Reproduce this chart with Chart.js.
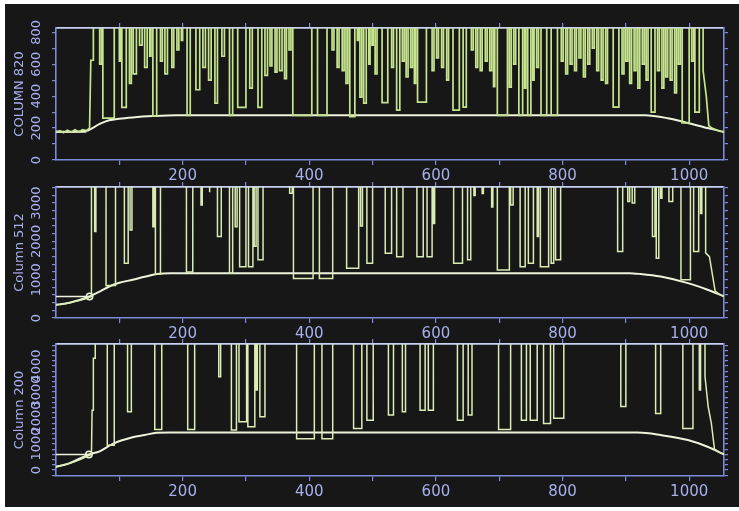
<!DOCTYPE html>
<html>
<head>
<meta charset="utf-8">
<script src="https://cdn.jsdelivr.net/npm/chart.js@4.4.1/dist/chart.umd.min.js"></script>
<style>
  html, body { margin: 0; padding: 0; background: #ffffff; }
  #stage { position: relative; width: 739px; height: 511px; overflow: hidden; }
  #panelBg { position: absolute; left: 5px; top: 4px; width: 734px; height: 503px; background: #171717; }
  canvas { position: absolute; left: 0; }
</style>
</head>
<body>
<div id="stage">
  <div id="panelBg"></div>
  <canvas id="c1" width="739" height="186" style="top:0px"></canvas>
  <canvas id="c2" width="739" height="180" style="top:165px"></canvas>
  <canvas id="c3" width="739" height="189" style="top:322px"></canvas>
</div>
<script>
// ---- shared x axis (position along the row) ----
const xMin = 0;
const xMax = 1055;
const xTickValues = [100, 200, 300, 400, 500, 600, 700, 800, 900, 1000];
const xLabelValues = [200, 400, 600, 800, 1000];

// ---- Column 820 ----
const title1 = 'COLUMN 820';
const yRange1 = [0, 827];
const yMinor1 = [0, 100, 200, 300, 400, 500, 600, 700, 800];
const yLabels1 = [0, 200, 400, 600, 800];
const top1 = 1000;            // signal saturates above the plotted range
const baseline1 = [[0,178],[20,177],[48,183],[69,226],[84,249],[100,259],[121,267],[153,275],[190,280],[930,280],[966,262],[998,232],[1029,200],[1055,176]];
const level1 = 176;
const cross1 = 48;
const sigStart1 = [[0,172],[6,184],[12,171],[18,186],[24,174],[30,189],[36,176],[42,190],[48,184],[53,200],[55,625],[59,625]];
const sigDips1 = [
  [69,72,600],[74,92,262],[100,102,620],[104,111,330],[116,119,480],[122,127,540],[132,136,720],
  [140,144,580],[148,150,650],[153,159,276],[165,168,620],[172,176,540],[183,186,580],[191,194,690],
  [198,200,750],[207,212,280],[221,227,440],[232,236,580],[241,245,500],[251,255,356],[262,266,650],
  [274,279,280],[287,300,330],[306,310,450],[319,325,330],[330,334,530],[338,341,590],[346,349,550],
  [353,357,560],[361,364,510],[368,371,690],[374,404,280],[413,428,280],[436,439,690],[444,447,580],
  [452,455,560],[458,461,480],[464,472,272],[476,478,750],[480,483,394],[486,490,356],[494,496,600],
  [499,501,720],[504,507,540],[515,524,360],[530,533,580],[538,543,313],[547,550,620],[553,556,520],
  [560,563,580],[566,568,480],[571,585,362],[594,597,560],[601,604,640],[609,612,580],[617,620,500],
  [627,637,313],[643,648,331],[656,659,690],[663,666,580],[670,673,560],[678,681,620],[685,688,560],
  [691,693,460],[697,713,280],[716,719,456],[723,726,600],[731,737,280],[740,742,450],[745,750,280],
  [753,755,500],[759,762,580],[766,775,280],[782,792,280],[798,801,620],[805,808,540],[812,815,600],
  [819,822,560],[826,829,640],[833,836,520],[840,843,600],[847,850,700],[854,857,560],[861,864,500],
  [868,871,480],[880,889,331],[894,897,540],[900,903,620],[906,909,480],[913,916,560],[919,922,450],
  [926,929,600],[932,935,500],[940,946,300],[950,953,560],[957,960,450],[963,966,520],[970,973,500],
  [977,980,420],[983,986,600],[989,1000,232],[1004,1007,620],[1009,1016,300]
];
const sigEnd1 = [[1022,560],[1027,400],[1031,215],[1036,200],[1042,190],[1048,180],[1055,176]];

// ---- Column 512 ----
const title2 = 'Column 512';
const yRange2 = [0, 3420];
const yMinor2 = [0,200,400,600,800,1000,1200,1400,1600,1800,2000,2200,2400,2600,2800,3000,3200,3400];
const yLabels2 = [0, 1000, 2000, 3000];
const top2 = 5000;
const baseline2 = [[0,346],[21,400],[53,563],[69,690],[84,823],[100,919],[121,997],[140,1075],[159,1146],[180,1170],[905,1170],[923,1150],[955,1083],[998,911],[1029,737],[1055,563]];
const level2 = 563;
const cross2 = 53;
const sigStart2 = [[0,340],[8,352],[16,380],[24,405],[32,440],[40,470],[48,505],[56,560]];
const sigDips2 = [
  [61,63,2255],[79,94,850],[108,114,1430],[117,120,2300],[153,155,2385],[157,165,1150],[206,216,1200],
  [229,231,2950],[242,243,3280],[255,261,2125],[274,279,1170],[283,286,2385],[290,300,1340],[304,311,1340],
  [313,316,1870],[319,327,1520],[369,373,3255],[375,406,1030],[416,437,1030],[459,478,1300],[481,484,2400],
  [491,500,1430],[520,530,1690],[538,548,1600],[570,580,1600],[586,594,1600],[596,598,2470],[628,642,1430],
  [650,655,1520],[660,662,3200],[673,675,3250],[688,690,2900],[697,716,1250],[718,722,2950],[733,741,1340],
  [746,754,1430],[760,762,2125],[765,778,1340],[782,786,1430],[789,797,1520],[887,895,1735],[903,906,3040],
  [910,914,3000],[942,946,2125],[948,952,1560],[955,957,3125],[968,974,3040],[987,1002,1000],[1007,1015,1735],
  [1018,1020,2730]
];
const sigEnd2 = [[1026,1700],[1032,1600],[1037,1100],[1041,700],[1048,620],[1055,560]];

// ---- Column 200 ----
const title3 = 'Column 200';
const yRange3 = [-230, 4850];
const yMinor3 = [-200,0,200,400,600,800,1000,1200,1400,1600,1800,2000,2200,2400,2600,2800,3000,3200,3400,3600,3800,4000,4200,4400,4600,4800];
const yLabels3 = [0, 1000, 2000, 3000, 4000];
const top3 = 7000;
const baseline3 = [[0,127],[21,258],[52,600],[69,720],[89,1000],[121,1258],[140,1346],[159,1435],[180,1440],[919,1440],[955,1346],[998,1154],[1029,896],[1055,600]];
const level3 = 600;
const cross3 = 52;
const sigStart3 = [[0,120],[10,180],[20,250],[30,330],[40,420],[50,540],[56,600],[57,2300],[59,2300],[59,4300],[62,4300]];
const sigDips3 = [
  [81,92,950],[113,119,2240],[156,167,1560],[208,219,1560],[257,260,3590],[277,285,1540],[289,301,1860],
  [303,314,1670],[316,318,3080],[322,330,2050],[380,408,1200],[420,437,1200],[470,483,1600],[491,501,1920],
  [525,533,2115],[547,552,2240],[575,583,2300],[588,596,2300],[634,643,1920],[651,657,2115],[699,718,1560],
  [735,743,1920],[749,760,1920],[770,781,1795],[786,802,1990],[892,900,2440],[947,955,2180],[990,1006,1600],
  [1016,1018,3080]
];
const sigEnd3 = [[1025,3600],[1030,2440],[1035,1800],[1040,800],[1047,700],[1055,600]];

// ---- styling ----
const FONT = 'DejaVu Sans';
const axisBlue = '#7d8ad9';
const frameTop = '#c9d0f4';
const labelColor = '#a7b0ec';
const curveColor = '#eef3dc';

const toPts = arr => arr.map(([x, y]) => ({ x, y }));

// Signal trace: the lead-in, then each dip below the saturated top, then the tail.
function buildTrace(start, dips, end, top) {
  const pts = toPts(start);
  pts.push({ x: start[start.length - 1][0], y: top });
  dips.forEach(([x0, x1, low]) => {
    pts.push({ x: x0, y: top }, { x: x0, y: low }, { x: x1, y: low }, { x: x1, y: top });
  });
  pts.push({ x: end[0][0], y: top });
  return pts.concat(toPts(end));
}

// Rotated y tick labels and axis title, placed through the y scale.
const sideLabels = {
  id: 'sideLabels',
  afterDraw(chart, args, opts) {
    const ctx = chart.ctx;
    const ys = chart.scales.y;
    const area = chart.chartArea;
    ctx.save();
    ctx.fillStyle = labelColor;
    ctx.textAlign = 'center';
    ctx.textBaseline = 'middle';
    ctx.font = '13px "' + FONT + '"';
    opts.values.forEach(v => {
      const py = ys.getPixelForValue(v);
      ctx.save();
      ctx.translate(opts.tickX, py);
      ctx.rotate(-Math.PI / 2);
      ctx.fillText(String(v), 0, 0);
      ctx.restore();
    });
    ctx.save();
    ctx.translate(opts.titleX, (area.top + area.bottom) / 2);
    ctx.rotate(-Math.PI / 2);
    ctx.fillText(opts.title, 0, 0);
    ctx.restore();
    ctx.restore();
  }
};

function tickMarks(values) {
  return s => { s.ticks = values.map(v => ({ value: v })); };
}

function makeChart(id, cfg) {
  const grid = { drawOnChartArea: false, drawTicks: true, tickLength: 5, color: axisBlue, lineWidth: 1.2 };
  return new Chart(document.getElementById(id), {
    type: 'line',
    data: {
      datasets: [
        {
          data: buildTrace(cfg.start, cfg.dips, cfg.end, cfg.top),
          borderColor: cfg.signalColor, borderWidth: cfg.signalWidth, pointRadius: 0, tension: 0
        },
        {
          data: toPts(cfg.baseline),
          borderColor: curveColor, borderWidth: 2, pointRadius: 0, cubicInterpolationMode: 'monotone'
        },
        {
          data: [{ x: 0, y: cfg.level }, { x: cfg.cross, y: cfg.level }],
          borderColor: curveColor, borderWidth: 1.6, pointRadius: 0, tension: 0
        },
        {
          data: cfg.marker ? [{ x: cfg.cross, y: cfg.level }] : [],
          showLine: false, pointRadius: 3.2, pointBorderWidth: 1.5,
          pointBorderColor: curveColor, pointBackgroundColor: 'rgba(0,0,0,0)'
        }
      ]
    },
    options: {
      responsive: false,
      maintainAspectRatio: false,
      animation: false,
      events: [],
      layout: { padding: 0 },
      plugins: {
        legend: { display: false },
        tooltip: { enabled: false },
        sideLabels: { values: cfg.yLabels, title: cfg.title, tickX: 37, titleX: 20 }
      },
      scales: {
        x: {
          type: 'linear', position: 'bottom', min: xMin, max: xMax,
          afterBuildTicks: tickMarks(xTickValues),
          afterFit: s => { s.height = cfg.bottomH; },
          grid: grid,
          border: { color: axisBlue, width: 1.6 },
          ticks: {
            autoSkip: false, maxRotation: 0, minRotation: 0, padding: 2,
            color: labelColor, font: { family: FONT, size: 15 },
            callback: v => (xLabelValues.includes(v) ? String(v) : '')
          }
        },
        xTop: {
          type: 'linear', position: 'top', min: xMin, max: xMax,
          afterBuildTicks: tickMarks(xTickValues),
          afterFit: s => { s.height = cfg.topH; },
          grid: grid,
          border: { color: frameTop, width: 1.8 },
          ticks: { display: false }
        },
        y: {
          type: 'linear', position: 'left', min: cfg.yRange[0], max: cfg.yRange[1],
          afterBuildTicks: tickMarks(cfg.yMinor),
          afterFit: s => { s.width = 56; },
          grid: Object.assign({}, grid, { tickLength: 4 }),
          border: { color: axisBlue, width: 1.6 },
          ticks: { display: false }
        },
        yR: {
          type: 'linear', position: 'right', min: cfg.yRange[0], max: cfg.yRange[1],
          afterBuildTicks: tickMarks(cfg.yMinor),
          afterFit: s => { s.width = 15; },
          grid: Object.assign({}, grid, { tickLength: 4 }),
          border: { color: axisBlue, width: 1.6 },
          ticks: { display: false }
        }
      }
    },
    plugins: [sideLabels]
  });
}

makeChart('c1', {
  title: title1, yRange: yRange1, yMinor: yMinor1, yLabels: yLabels1, top: top1,
  start: sigStart1, dips: sigDips1, end: sigEnd1, baseline: baseline1,
  level: level1, cross: cross1, marker: false, topH: 28, bottomH: 26,
  signalColor: '#c6e48e', signalWidth: 1.7
});
makeChart('c2', {
  title: title2, yRange: yRange2, yMinor: yMinor2, yLabels: yLabels2, top: top2,
  start: sigStart2, dips: sigDips2, end: sigEnd2, baseline: baseline2,
  level: level2, cross: cross2, marker: true, topH: 22, bottomH: 27,
  signalColor: '#d9ebb2', signalWidth: 1.5
});
makeChart('c3', {
  title: title3, yRange: yRange3, yMinor: yMinor3, yLabels: yLabels3, top: top3,
  start: sigStart3, dips: sigDips3, end: sigEnd3, baseline: baseline3,
  level: level3, cross: cross3, marker: true, topH: 22, bottomH: 35,
  signalColor: '#dcecb6', signalWidth: 1.5
});
</script>
</body>
</html>
